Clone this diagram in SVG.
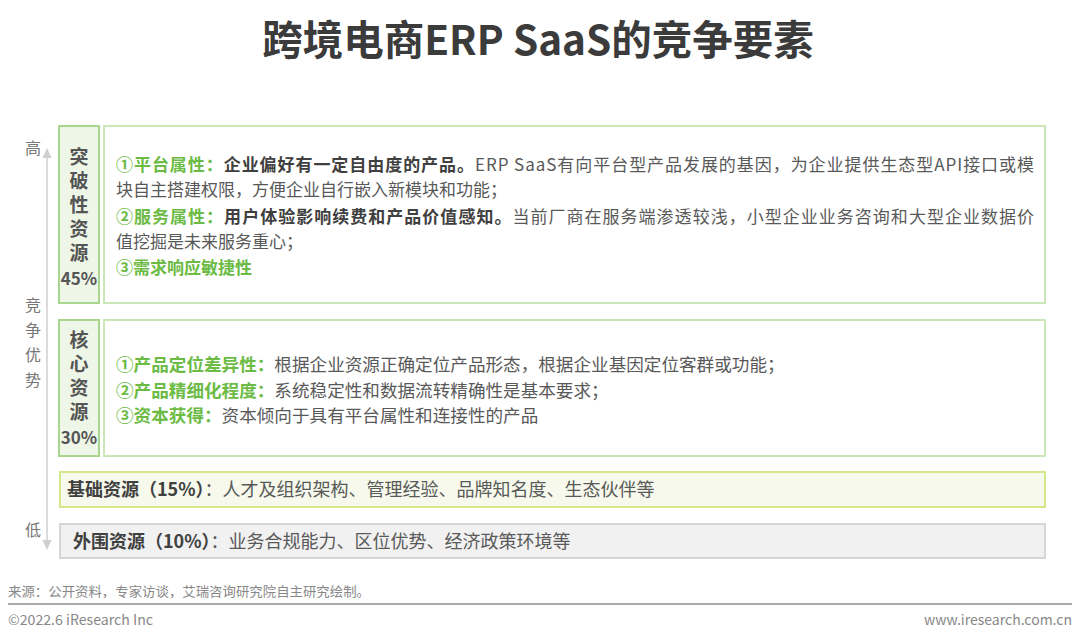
<svg xmlns="http://www.w3.org/2000/svg" width="1080" height="640" viewBox="0 0 1080 640">
<style>
text{font-family:"Noto Sans CJK SC","Noto Sans",sans-serif}
.title{font-size:40.5px;font-weight:bold;fill:#3b3b3b}
.axis{font-size:16px;fill:#777}
.lbl{font-size:19px;font-weight:bold;fill:#555;text-anchor:middle}
.vert{writing-mode:vertical-rl;text-anchor:start}
.t1{font-size:17px;fill:#595959}
.t2{font-size:17.6px;fill:#595959}
.t3{font-size:18px;fill:#595959}
.g{fill:#6cbb45;font-weight:bold}
.b{fill:#404040;font-weight:bold}
.lblbox{fill:#eef6e7;stroke:#a9d68f;stroke-width:2}
.cbox{fill:#fff;stroke:#cbe7b7;stroke-width:2}
.foot{font-size:13px;fill:#888}
</style>
<rect width="1080" height="640" fill="#fff"/>
<text class="title" x="538" y="55" text-anchor="middle">跨境电商ERP SaaS的竞争要素</text>

<g id="axis">
<line x1="47" y1="156" x2="47" y2="542" stroke="#cfcfcf" stroke-width="1.5"/>
<polygon points="47,148 42.5,158 51.5,158" fill="#cfcfcf"/>
<polygon points="47,550 42.5,540 51.5,540" fill="#cfcfcf"/>
<text class="axis" x="33" y="154" text-anchor="middle">高</text>
<text class="axis vert" x="33" y="297" style="letter-spacing:9px">竞争优势</text>
<text class="axis" x="33" y="536" text-anchor="middle">低</text>
</g>

<g id="breakthrough">
<rect class="lblbox" x="59" y="126" width="40" height="177"/>
<text class="lbl vert" x="79" y="147.5" style="letter-spacing:5px">突破性资源</text>
<text class="lbl" x="79" y="285" style="font-size:17px">45%</text>
<rect class="cbox" x="104" y="126" width="941" height="177"/>
<text class="t1" x="116" y="171" textLength="918" lengthAdjust="spacing"><tspan class="g">①平台属性：</tspan><tspan class="b">企业偏好有一定自由度的产品。</tspan>ERP SaaS有向平台型产品发展的基因，为企业提供生态型API接口或模</text>
<text class="t1" x="116" y="196">块自主搭建权限，方便企业自行嵌入新模块和功能；</text>
<text class="t1" x="116" y="223" textLength="918" lengthAdjust="spacing"><tspan class="g">②服务属性：</tspan><tspan class="b">用户体验影响续费和产品价值感知。</tspan>当前厂商在服务端渗透较浅，小型企业业务咨询和大型企业数据价</text>
<text class="t1" x="116" y="248">值挖掘是未来服务重心；</text>
<text class="t1" x="116" y="274"><tspan class="g">③需求响应敏捷性</tspan></text>
</g>

<g id="core">
<rect class="lblbox" x="59" y="320" width="40" height="136"/>
<text class="lbl vert" x="79" y="330.5" style="letter-spacing:5px">核心资源</text>
<text class="lbl" x="79" y="444" style="font-size:17px">30%</text>
<rect class="cbox" x="104" y="320" width="941" height="136"/>
<text class="t2" x="116" y="371"><tspan class="g">①产品定位差异性：</tspan>根据企业资源正确定位产品形态，根据企业基因定位客群或功能；</text>
<text class="t2" x="116" y="397"><tspan class="g">②产品精细化程度：</tspan>系统稳定性和数据流转精确性是基本要求；</text>
<text class="t2" x="116" y="422"><tspan class="g">③资本获得：</tspan>资本倾向于具有平台属性和连接性的产品</text>
</g>

<g id="basic">
<rect x="60" y="472" width="985" height="35" fill="#f6f9ec" stroke="#d2e889" stroke-width="2"/>
<text class="t3" x="67" y="496"><tspan class="b">基础资源（15%）</tspan>：人才及组织架构、管理经验、品牌知名度、生态伙伴等</text>
</g>

<g id="peripheral">
<rect x="60" y="524" width="985" height="34" fill="#f1f1f1" stroke="#d6d6d6" stroke-width="2"/>
<text class="t3" x="73" y="548"><tspan class="b">外围资源（10%）</tspan>：业务合规能力、区位优势、经济政策环境等</text>
</g>

<g id="footer">
<text class="foot" x="8" y="596" textLength="362" lengthAdjust="spacingAndGlyphs">来源：公开资料，专家访谈，艾瑞咨询研究院自主研究绘制。</text>
<line x1="8" y1="604" x2="1072" y2="604" stroke="#aaa" stroke-width="2"/>
<text class="foot" x="8" y="625" style="font-size:14px" textLength="145" lengthAdjust="spacingAndGlyphs">©2022.6 iResearch Inc</text>
<text class="foot" x="1072" y="625" style="font-size:14px" text-anchor="end">www.iresearch.com.cn</text>
</g>
</svg>
